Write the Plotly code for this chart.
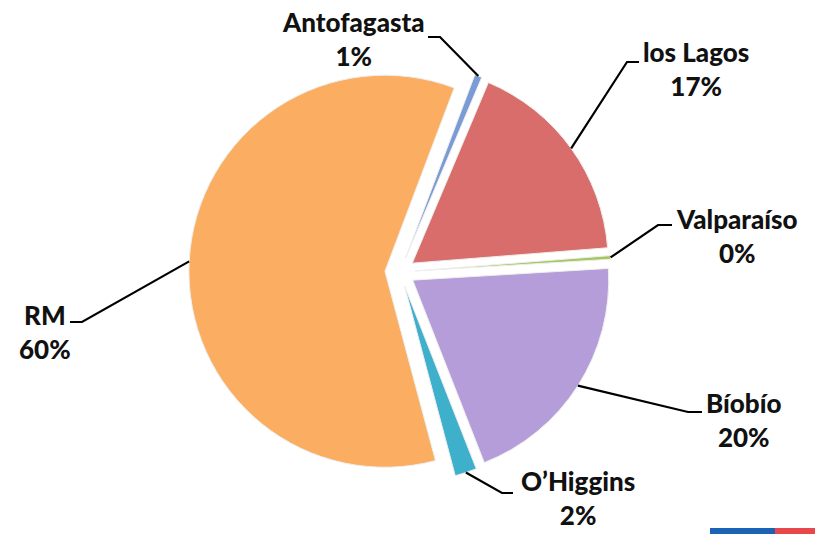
import math
import plotly.graph_objects as go

# ---- data ----
regions = ["Antofagasta", "los Lagos", "Valparaíso", "Bíobío", "O’Higgins", "RM"]
shares = [0.6, 17.4, 0.3, 20.0, 1.8, 59.9]
colors = ["#7b9bd6", "#d96d6b", "#a5c85e", "#b49dd9", "#3fb0cc", "#fbae62"]

W, H = 815, 534
ROT = 20.7
PULL = 0.077

# pie box (pixels) -> domain
cx_px, cy_px, half = 400, 272, 211.1
dom_x = [(cx_px - half) / W, (cx_px + half) / W]
dom_y = [(H - cy_px - half) / H, (H - cy_px + half) / H]

fig = go.Figure(go.Pie(
    labels=regions, values=shares, sort=False, direction="clockwise",
    rotation=ROT, pull=[PULL] * len(shares),
    marker=dict(colors=colors, line=dict(color="#eeeeee", width=1)),
    textinfo="none", hoverinfo="label+percent", showlegend=False,
    domain=dict(x=dom_x, y=dom_y),
))

# geometry as plotly computes it
boxW = W * (dom_x[1] - dom_x[0])
boxH = H * (dom_y[1] - dom_y[0])
r = min(boxW, boxH) / (2 + 2 * PULL)
cx = W * (dom_x[0] + dom_x[1]) / 2
cy = H * (1 - dom_y[0]) - boxH / 2

# label layout (pixels): text centre, elbow start, elbow end
label_pos = {
    "Antofagasta": ((353, 39), (428, 37), (440, 37)),
    "los Lagos": ((696, 69), (639, 62), (627, 62)),
    "Valparaíso": ((737, 236), (672, 225), (658, 225)),
    "Bíobío": ((743, 420), (702, 412), (688, 412)),
    "O’Higgins": ((578, 498), (513, 493), (502, 493)),
    "RM": ((45, 332), (70, 322), (82, 322)),
}

def px(x):
    return x / W

def py(y):
    return 1 - y / H

total = sum(shares)
cum = 0.0
for name, v in zip(regions, shares):
    mid = ROT + (cum + v / 2) / total * 360
    cum += v
    a = math.radians(mid)
    ax_ = cx + r * (1 + PULL) * math.sin(a)
    ay_ = cy - r * (1 + PULL) * math.cos(a)
    (tx, ty), e0, e1 = label_pos[name]
    pct = round(v / total * 100)
    fig.add_annotation(
        x=px(tx), y=py(ty), xref="paper", yref="paper", showarrow=False,
        text=f"{name}<br>{pct}%", align="center",
        font=dict(family="Lato", size=26, color="#111111", weight=900),
        xanchor="center", yanchor="middle",
    )
    path = (f"M {px(e0[0])},{py(e0[1])} L {px(e1[0])},{py(e1[1])} "
            f"L {px(ax_)},{py(ay_)}")
    fig.add_shape(type="path", path=path, xref="paper", yref="paper",
                  line=dict(color="#000000", width=2.2))

# slide decoration bottom-right
fig.add_shape(type="rect", xref="paper", yref="paper",
              x0=px(710), x1=px(775), y0=py(534), y1=py(528),
              fillcolor="#1b63b5", line=dict(width=0))
fig.add_shape(type="rect", xref="paper", yref="paper",
              x0=px(775), x1=px(815), y0=py(534), y1=py(528),
              fillcolor="#e8474c", line=dict(width=0))

fig.update_layout(
    width=W, height=H, margin=dict(l=0, r=0, t=0, b=0),
    paper_bgcolor="#ffffff", plot_bgcolor="#ffffff",
)
fig.write_html("out.html", config={"displayModeBar": False},
               post_script="document.body.style.margin='0';")
